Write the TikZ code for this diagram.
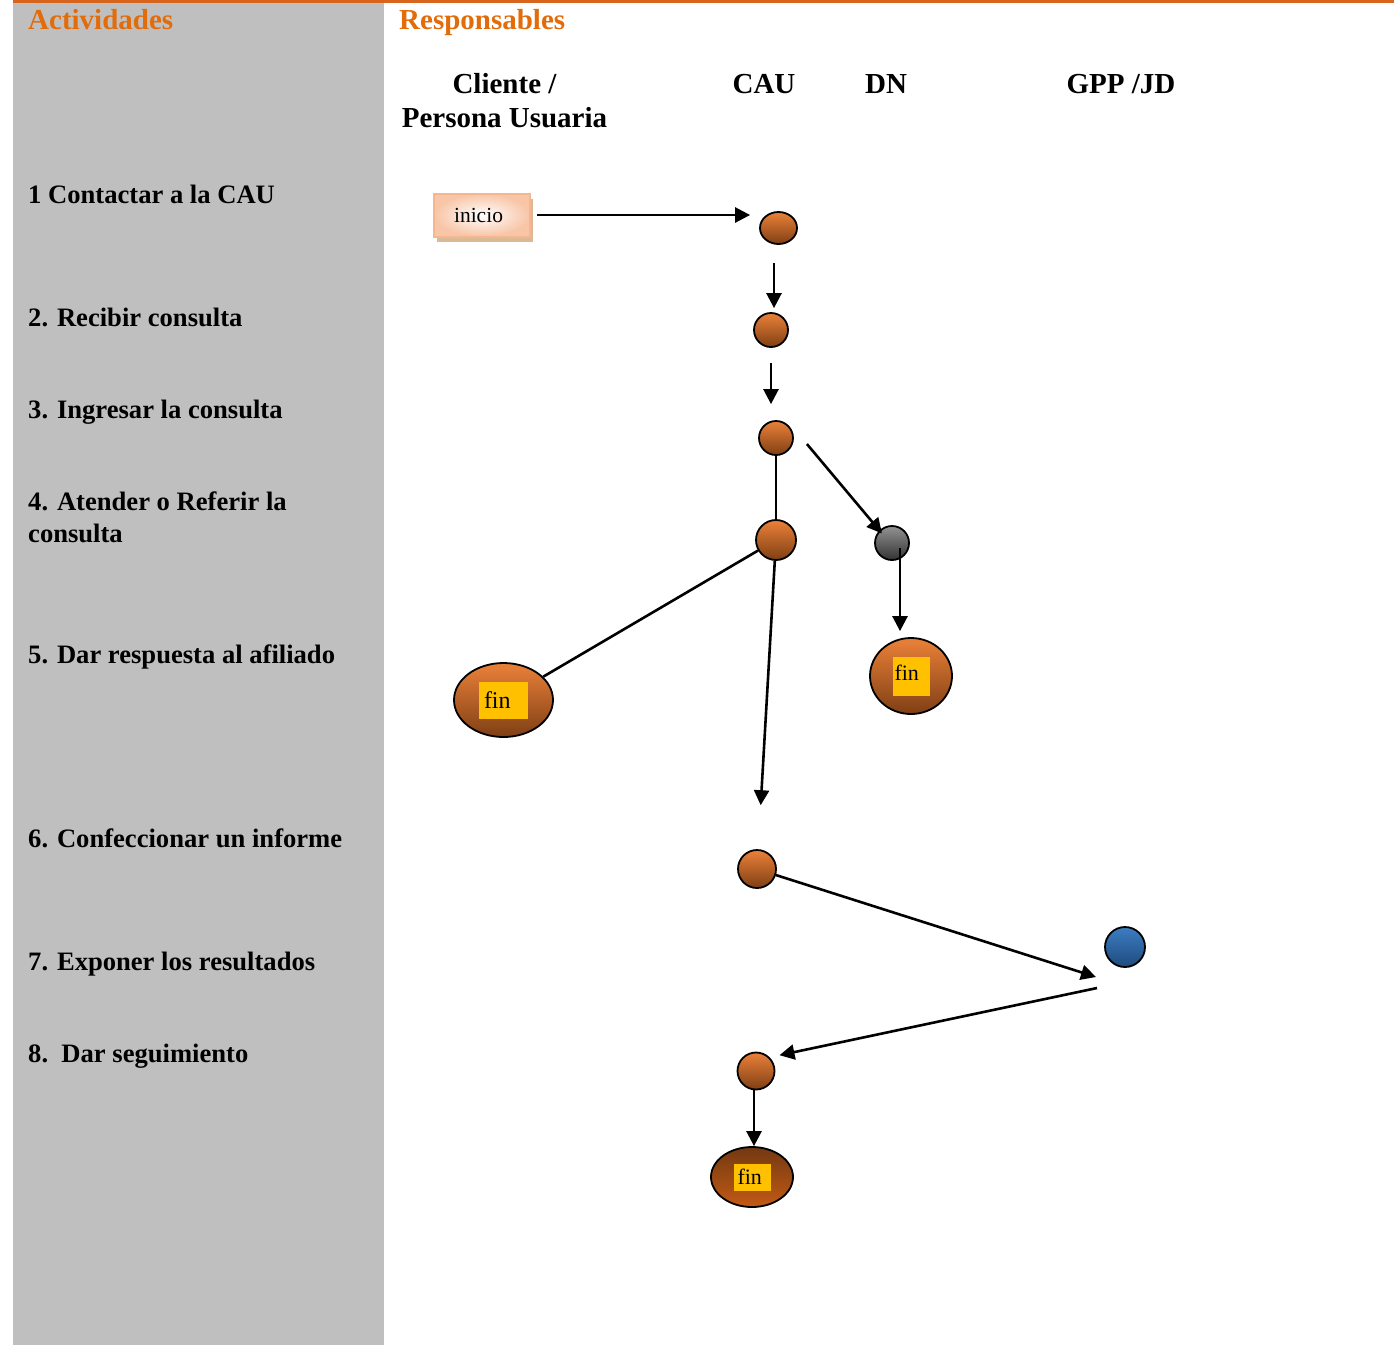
\documentclass[tikz,border=0pt]{standalone}
\usepackage{fontspec}
\setmainfont{Liberation Serif}
\usepackage{tikz}
\usetikzlibrary{shapes,arrows.meta,shadows,calc}
\definecolor{panelgray}{HTML}{BFBFBF}
\definecolor{headorange}{HTML}{E36C0A}
\definecolor{rulebrown}{HTML}{D8651E}
\definecolor{ballhi}{HTML}{EB8139}
\definecolor{balllo}{HTML}{7F3F14}
\definecolor{finyellow}{HTML}{FFC000}
\definecolor{peach}{HTML}{F6B690}
\tikzstyle{arr}=[line width=2.6pt, -{Triangle[length=15pt,width=15pt]}]
\tikzstyle{ball}=[circle, draw=black, line width=1.8pt, inner sep=0pt, top color=ballhi, bottom color=balllo]
\tikzstyle{endball}=[ellipse, draw=black, line width=1.8pt, inner sep=0pt, top color=ballhi, bottom color=balllo]
\tikzstyle{finbox}=[fill=finyellow, inner sep=0pt, align=left, font=\fontsize{22}{24}\selectfont]
\tikzstyle{act}=[anchor=base west, align=left, inner sep=0pt, font=\bfseries\fontsize{26.6}{32}\selectfont]
\tikzstyle{head}=[inner sep=0pt, font=\bfseries\fontsize{29}{34}\selectfont]

\begin{document}
\begin{tikzpicture}[x=1pt,y=-1pt]
\useasboundingbox (0,0) rectangle (1394,1345);
\fill[panelgray] (13,3) rectangle (384,1345);
\draw[rulebrown, line width=3pt] (13,1.5) -- (1394,1.5);
\node[head, anchor=base west, text=headorange] (actividades) at (28,29.5) {Actividades};
\node[head, anchor=base west, text=headorange] (responsables) at (399,29.5) {Responsables};
\node[head, align=center] (cliente) at (504.5,101) {Cliente /\\Persona Usuaria};
\node[head] (cau) at (764,84) {CAU};
\node[head] (dn) at (886,84) {DN};
\node[head] (gpp) at (1121,84) {GPP /JD};
\foreach \n/\y/\t in {1/194/{1 Contactar a la CAU}, 2/317/{2. Recibir consulta}, 3/409/{3. Ingresar la consulta}, 5/654/{5. Dar respuesta al afiliado}, 6/838/{6. Confeccionar un informe}, 7/961/{7. Exponer los resultados}, 8/1053/{8.~~Dar seguimiento}} {
	\node[act] (act\n) at (28,\y+9.5) {\t};
}
\node[act, anchor=west] (act4) at (28,517) {4. Atender o Referir la\\consulta};
\node[draw=peach, line width=2pt, inner sep=0pt, minimum width=96pt, minimum height=43pt, inner color=white, outer color=peach!80, drop shadow={shadow xshift=3pt, shadow yshift=-5pt, fill=brown!55!white, opacity=1}, font=\fontsize{21.5}{24}\selectfont] (inicio) at (482,215) {inicio\hspace*{7pt}};
\node[ball, minimum width=37pt, minimum height=32pt, ellipse] (c1) at (778.5,228) {};
\node[ball, minimum size=34pt] (c2) at (771,330) {};
\node[ball, minimum size=34pt] (c3) at (776,438) {};
\node[ball, minimum size=40pt] (c4) at (776,540) {};
\node[ball, minimum size=34pt, top color=gray!85, bottom color=black!80] (g) at (892,543) {};
\node[ball, minimum size=38pt] (c5) at (757,869) {};
\node[ball, minimum size=40pt, top color={rgb,255:red,60;green,125;blue,195}, bottom color={rgb,255:red,30;green,75;blue,125}] (blue) at (1125,947) {};
\node[ball, minimum size=37pt] (c6) at (756,1071) {};
\node[endball, minimum width=99pt, minimum height=74pt] (fin1) at (503.5,700) {};
\node[endball, minimum width=82pt, minimum height=76pt] (fin2) at (911,676) {};
\node[endball, minimum width=82pt, minimum height=60pt, top color=balllo!90!black, bottom color={rgb,255:red,195;green,90;blue,20}] (fin3) at (752,1177) {};
\node[finbox, minimum width=49pt, minimum height=37pt, text width=45pt, font=\fontsize{24}{26}\selectfont] (fin1txt) at (fin1) {\hspace*{3pt}fin};
\node[finbox, minimum width=37pt, minimum height=39pt, text width=35pt] (fin2txt) at (fin2) {\raisebox{6pt}{\hspace*{1pt}fin}};
\node[finbox, minimum width=37pt, minimum height=27pt, text width=35pt] (fin3txt) at (fin3) {\hspace*{3pt}fin};
\coordinate (expin) at (1096,977);
\coordinate (expout) at (1097,988);
\draw[arr, shorten <=6pt, shorten >=9pt] (inicio.east) -- (inicio.east -| c1.west);
\draw[arr, shorten <=18pt, shorten >=4pt] ([xshift=-4.5pt]c1.south) -- ([xshift=-4.5pt]c1.south |- c2.north);
\draw[arr, shorten <=15pt, shorten >=16pt] (c2.south) -- (c3.north -| c2.south);
\draw[line width=2.6pt] (c3) -- (c4);
\draw[arr, shorten >=-4pt] ([shift={(13pt,-6pt)}]c3.east) -- (g.north west);
\draw[arr, shorten <=5pt, shorten >=6pt] ([xshift=8pt]g.center) -- ([xshift=-11pt]fin2.north);
\draw[line width=2.6pt] (c4) -- (fin1);
\draw[arr, shorten >=44pt] (c4) -- (c5);
\draw[arr] (c5) -- (expin);
\draw[arr, shorten >=10pt] (expout) -- (c6.north east);
\draw[arr] ([xshift=-2pt]c6.south) -- ([xshift=2pt]fin3.north);
\end{tikzpicture}
\end{document}
